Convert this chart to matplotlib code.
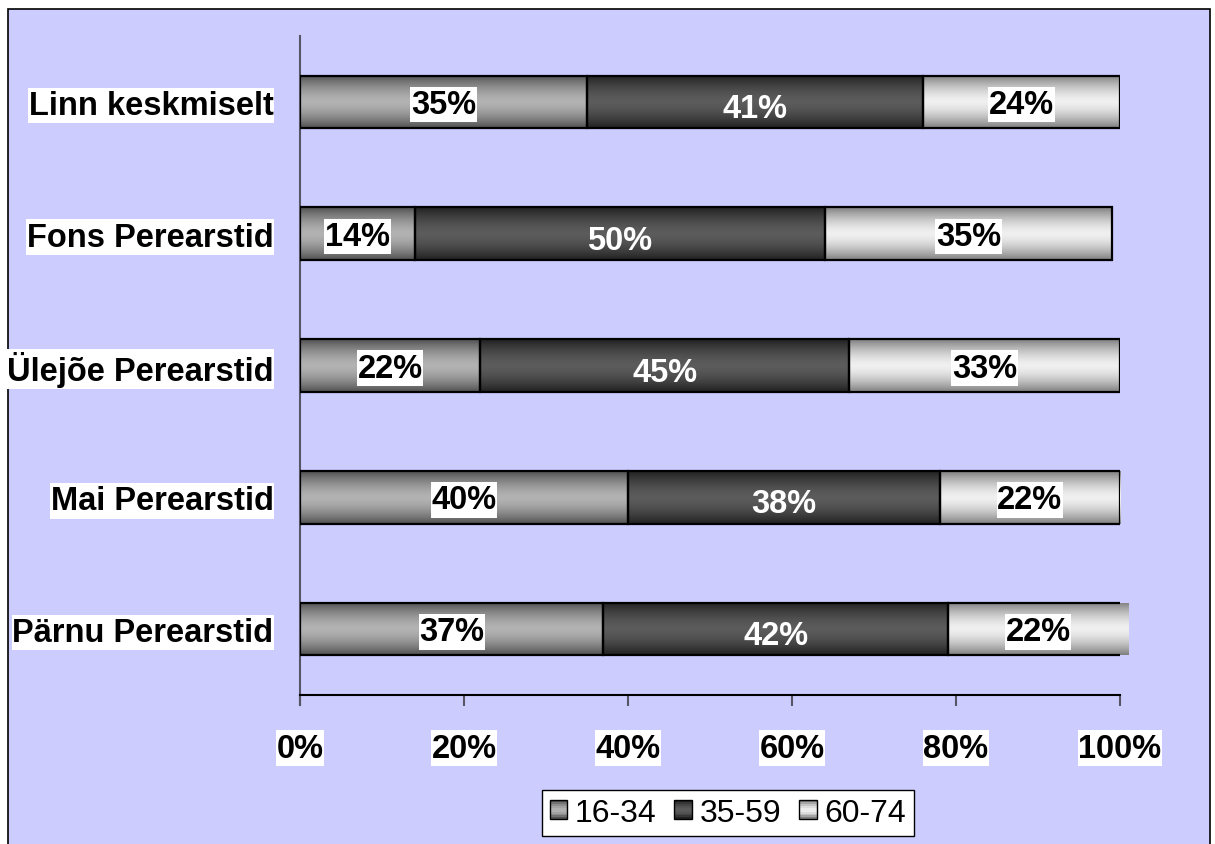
import numpy as np
import matplotlib
matplotlib.use("Agg")
import matplotlib.pyplot as plt
from matplotlib.patches import Rectangle
from matplotlib.path import Path
from matplotlib.legend_handler import HandlerBase

categories = ["Pärnu Perearstid", "Mai Perearstid", "Ülejõe Perearstid",
              "Fons Perearstid", "Linn keskmiselt"]
series_names = ["16-34", "35-59", "60-74"]
s1634 = [37, 40, 22, 14, 35]
s3559 = [42, 38, 45, 50, 41]
s6074 = [22, 22, 33, 35, 24]
xticks = [0, 20, 40, 60, 80, 100]
xticklabels = ["0%", "20%", "40%", "60%", "80%", "100%"]

# gradient (edge colour, middle colour) per series
grads = [((0.32, 0.32, 0.32), (0.70, 0.70, 0.70)),
         ((0.13, 0.13, 0.13), (0.36, 0.36, 0.36)),
         ((0.50, 0.50, 0.50), (0.94, 0.94, 0.94))]

plt.rcParams['font.family'] = ['Liberation Sans', 'DejaVu Sans']

W, H = 1215, 845
fig = plt.figure(figsize=(W / 100, H / 100), dpi=100, facecolor="white")
bgax = fig.add_axes([0, 0, 1, 1], zorder=-10)
bgax.set_xlim(0, W)
bgax.set_ylim(H, 0)
bgax.axis("off")
bgax.add_patch(Rectangle((8, 10), 1210 - 8, H + 10, facecolor="#CCCCFF",
                         edgecolor="black", linewidth=1.2))

ax = fig.add_axes([300 / W, 1 - 696 / H, (1120 - 300) / W, (696 - 37) / H])
ax.set_facecolor("none")


def tallbox(x0, y0, width, height, mutation_size):
    px = 0.02 * mutation_size
    py = 0.07 * mutation_size
    return Path([(x0 - px, y0 - py), (x0 + width + px, y0 - py),
                 (x0 + width + px, y0 + height + py), (x0 - px, y0 + height + py),
                 (x0 - px, y0 - py)], closed=True)


def grad_img(edge, mid, n=64):
    t = np.linspace(0, 1, n)
    f = 1 - np.abs(2 * t - 1) ** 1.6
    e = np.array(edge)
    m = np.array(mid)
    return (e[None, :] + (m - e)[None, :] * f[:, None])[:, None, :]


y = np.arange(len(categories))
bh = 0.4
lefts = np.zeros(len(categories))
for si, vals in enumerate([s1634, s3559, s6074]):
    bars = ax.barh(y, vals, left=lefts, height=bh, facecolor="none",
                   edgecolor="black", linewidth=1.6, zorder=3)
    img = grad_img(*grads[si])
    for b in bars:
        x0, y0 = b.get_x(), b.get_y()
        im = ax.imshow(img, extent=[x0, x0 + b.get_width(), y0, y0 + b.get_height()],
                       aspect="auto", zorder=2, interpolation="bilinear")
        im.set_clip_path(b)
    for yi, (l, v) in enumerate(zip(lefts, vals)):
        cx = l + v / 2
        if si == 1:
            ax.text(cx, yi - 0.05, f"{v}%", ha="center", va="center",
                    fontsize=23.5, fontweight="bold", color="white", zorder=5)
        else:
            ax.text(cx, yi - 0.02, f"{v}%", ha="center", va="center",
                    fontsize=23.5, fontweight="bold", color="black", zorder=5,
                    bbox=dict(boxstyle=tallbox, facecolor="white", edgecolor="none"))
    lefts = lefts + np.array(vals)

ax.set_xlim(0, 100)
ax.set_ylim(-0.5, len(categories) - 0.5)
ax.set_xticks(xticks)
ax.set_xticklabels(xticklabels)
ax.set_yticks(y)
ax.set_yticklabels(categories)
ax.tick_params(axis="x", direction="out", length=8, width=1.5, color="#555566",
               pad=19, labelsize=23.5)
ax.tick_params(axis="y", length=0, pad=19, labelsize=23.5)
for lab in ax.get_xticklabels() + ax.get_yticklabels():
    lab.set_fontweight("bold")
    lab.set_bbox(dict(boxstyle=tallbox, facecolor="white", edgecolor="none"))
for s in ["top", "right"]:
    ax.spines[s].set_visible(False)
ax.spines["left"].set_color("#555566")
ax.spines["left"].set_linewidth(1.5)
ax.spines["left"].set_bounds(-0.5 - 10 / 132, len(categories) - 0.5)
ax.spines["bottom"].set_color("black")
ax.spines["bottom"].set_linewidth(1.5)


class GradHandler(HandlerBase):
    def __init__(self, edge, mid):
        super().__init__()
        self.edge, self.mid = edge, mid

    def create_artists(self, legend, orig_handle, xdescent, ydescent, width,
                       height, fontsize, trans):
        arts = []
        n = 10
        img = grad_img(self.edge, self.mid, n)[:, 0, :]
        for i in range(n):
            r = Rectangle((-xdescent, -ydescent + height * i / n), width,
                          height / n, facecolor=img[i], edgecolor="none",
                          transform=trans)
            arts.append(r)
        arts.append(Rectangle((-xdescent, -ydescent), width, height,
                              facecolor="none", edgecolor="black",
                              linewidth=1.0, transform=trans))
        return arts


handles = [Rectangle((0, 0), 1, 1) for _ in series_names]
leg = fig.legend(handles, series_names, loc="center",
                 bbox_to_anchor=(728 / W, 1 - 814 / H), ncol=3,
                 prop={"size": 23}, frameon=True, fancybox=False, shadow=False,
                 handlelength=0.55, handleheight=0.55, handletextpad=0.25,
                 columnspacing=0.55, borderpad=0.25, borderaxespad=0,
                 handler_map={h: GradHandler(*g) for h, g in zip(handles, grads)})
leg.get_frame().set_edgecolor("black")
leg.get_frame().set_linewidth(1.0)
leg.get_frame().set_facecolor("white")
leg.get_frame().set_alpha(1)

fig.savefig("out.png", dpi=100, facecolor="white")
